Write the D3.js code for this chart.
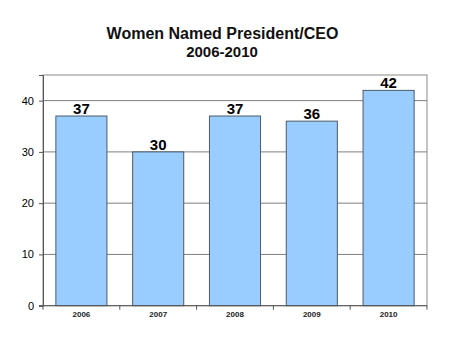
<!DOCTYPE html>
<html><head><meta charset="utf-8">
<script src="https://cdn.jsdelivr.net/npm/d3@7"></script>
<style>body{margin:0;background:#fff}svg{display:block}</style>
</head><body>
<svg id="c" width="450" height="338"></svg>
<script>
const categories = ["2006","2007","2008","2009","2010"];
const values = [37,30,37,36,42];
const yTicks = [0,10,20,30,40];

const svg = d3.select("#c");
const font = "Liberation Sans, Arial, sans-serif";
const m = {l:43, r:427, t:75, b:305.7};

const x = d3.scaleBand().domain(categories).range([m.l, m.r]).paddingInner(0.335).paddingOuter(0.1675);
const y = d3.scaleLinear().domain([0,45]).range([m.b, m.t]);

svg.append("text").attr("x",222.5).attr("y",39).attr("text-anchor","middle")
  .attr("font-family",font).attr("font-size",16).attr("font-weight","bold").attr("fill","#111").text("Women Named President/CEO");
svg.append("text").attr("x",222).attr("y",57).attr("text-anchor","middle")
  .attr("font-family",font).attr("font-size",15).attr("font-weight","bold").attr("fill","#111").text("2006-2010");

// gridlines
svg.append("g").selectAll("line").data(yTicks.filter(d=>d>0)).join("line")
  .attr("x1",m.l).attr("x2",m.r).attr("y1",d=>y(d)).attr("y2",d=>y(d))
  .attr("stroke","#7f7f7f").attr("stroke-width",1);

// plot border
svg.append("rect").attr("x",m.l).attr("y",m.t).attr("width",m.r-m.l).attr("height",m.b-m.t)
  .attr("fill","none").attr("stroke","#8a8a8a").attr("stroke-width",1);

// bars
svg.append("g").selectAll("rect").data(values).join("rect")
  .attr("x",(d,i)=>x(categories[i])).attr("width",x.bandwidth())
  .attr("y",d=>y(d)).attr("height",d=>y(0)-y(d))
  .attr("fill","#99ccff").attr("stroke","#4d5a66").attr("stroke-width",1);

// value labels
svg.append("g").selectAll("text").data(values).join("text")
  .attr("x",(d,i)=>x(categories[i])+x.bandwidth()/2).attr("y",d=>y(d)-2)
  .attr("text-anchor","middle").attr("font-family",font).attr("font-size",15).attr("font-weight","bold")
  .attr("fill","#000").text(d=>d);

// y axis
const ya = svg.append("g").attr("transform",`translate(${m.l},0)`)
  .call(d3.axisLeft(y).tickValues(yTicks).tickSize(4).tickPadding(5));
ya.select(".domain").attr("stroke","#555");
ya.selectAll(".tick line").attr("stroke","#555");
ya.selectAll("text").attr("font-family",font).attr("font-size",11).attr("fill","#000");

// x axis
const xa = svg.append("g").attr("transform",`translate(0,${m.b})`);
xa.append("line").attr("x1",m.l-4).attr("x2",m.r).attr("y1",0).attr("y2",0).attr("stroke","#555");
const bounds = d3.range(categories.length+1).map(i=>m.l+i*(m.r-m.l)/categories.length);
xa.selectAll("line.t").data(bounds).join("line").attr("class","t")
  .attr("x1",d=>d).attr("x2",d=>d).attr("y1",0).attr("y2",4).attr("stroke","#555");
xa.selectAll("text").data(categories).join("text")
  .attr("x",d=>x(d)+x.bandwidth()/2).attr("y",11.5).attr("text-anchor","middle")
  .attr("font-family",font).attr("font-size",8).attr("font-weight","bold").attr("fill","#222").text(d=>d);
</script>
</body></html>
